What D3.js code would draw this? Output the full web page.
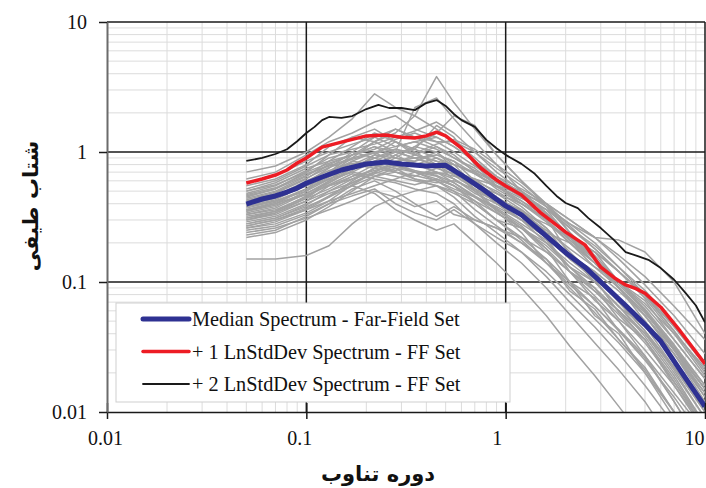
<!DOCTYPE html>
<html>
<head>
<meta charset="utf-8">
<script src="https://cdn.jsdelivr.net/npm/d3@7/dist/d3.min.js"></script>
<style>
  html, body { margin: 0; padding: 0; background: #fff; }
  svg { display: block; }
  .tick text { font-family: "Liberation Serif", "Times New Roman", serif; font-size: 20px; fill: #111; }
</style>
</head>
<body>
<svg id="chart" width="706" height="488"></svg>
<script>
// Periods (s) shared by every record spectrum
const periods = [0.05, 0.07, 0.1, 0.13, 0.17, 0.22, 0.28, 0.35, 0.45, 0.55, 0.7, 0.9, 1.2, 1.6, 2.1, 2.8, 3.7, 5, 7, 10];

// Individual record spectra (spectral acceleration, g)
const records = [
  [0.35,0.40,0.52,0.70,0.95,1.10,0.90,0.85,1.00,0.80,0.55,0.40,0.30,0.22,0.12,0.090,0.052,0.036,0.017,0.008],
  [0.28,0.31,0.38,0.45,0.60,0.75,0.95,0.80,0.70,0.62,0.50,0.42,0.36,0.24,0.20,0.13,0.10,0.060,0.030,0.013],
  [0.45,0.52,0.70,0.95,1.30,1.50,1.20,1.05,1.60,1.30,0.80,0.55,0.40,0.31,0.16,0.12,0.070,0.042,0.022,0.010],
  [0.15,0.15,0.16,0.19,0.28,0.38,0.45,0.50,0.55,0.48,0.40,0.30,0.26,0.20,0.14,0.10,0.065,0.040,0.020,0.009],
  [0.62,0.70,0.95,1.20,1.40,1.70,1.90,1.50,1.30,1.10,0.85,0.60,0.45,0.32,0.22,0.15,0.10,0.065,0.036,0.018],
  [0.30,0.33,0.42,0.55,0.62,0.70,0.65,0.60,0.55,0.45,0.32,0.24,0.17,0.11,0.070,0.045,0.028,0.016,0.008,0.0035],
  [0.40,0.45,0.55,0.65,0.80,0.75,0.90,1.10,1.40,1.90,1.60,0.95,0.60,0.38,0.24,0.16,0.10,0.060,0.030,0.014],
  [0.25,0.27,0.33,0.40,0.52,0.60,0.50,0.40,0.32,0.38,0.30,0.26,0.22,0.17,0.12,0.085,0.060,0.040,0.022,0.011],
  [0.50,0.58,0.75,0.85,0.95,1.20,1.40,1.90,3.80,2.40,1.50,0.95,0.60,0.40,0.24,0.15,0.090,0.050,0.025,0.011],
  [0.38,0.42,0.50,0.62,0.70,0.85,1.00,2.20,2.60,1.80,1.20,0.80,0.50,0.33,0.21,0.14,0.090,0.055,0.028,0.013],
  [0.33,0.36,0.45,0.60,0.85,1.00,0.80,0.70,0.65,0.55,0.40,0.30,0.21,0.14,0.090,0.058,0.036,0.021,0.010,0.0045],
  [0.42,0.48,0.62,0.80,0.75,0.90,1.05,0.95,0.85,0.80,0.70,0.58,0.45,0.36,0.22,0.17,0.10,0.072,0.036,0.018],
  [0.27,0.30,0.36,0.42,0.48,0.55,0.62,0.70,0.60,0.52,0.45,0.38,0.30,0.22,0.15,0.11,0.075,0.050,0.028,0.014],
  [0.55,0.62,0.80,1.10,1.30,1.20,1.00,0.90,0.95,0.85,0.60,0.45,0.35,0.24,0.16,0.10,0.065,0.038,0.019,0.008],
  [0.36,0.40,0.48,0.58,0.72,0.95,1.20,1.00,0.80,0.70,0.62,0.55,0.48,0.40,0.30,0.22,0.15,0.095,0.055,0.028],
  [0.31,0.35,0.46,0.56,0.68,0.62,0.58,0.52,0.48,0.40,0.28,0.20,0.14,0.090,0.056,0.034,0.021,0.012,0.0055,0.0025],
  [0.47,0.53,0.68,0.78,0.90,1.00,1.10,1.20,1.05,0.90,0.75,0.55,0.42,0.30,0.20,0.14,0.095,0.060,0.032,0.015],
  [0.22,0.24,0.30,0.38,0.50,0.65,0.75,0.62,0.55,0.50,0.42,0.34,0.26,0.19,0.13,0.090,0.060,0.036,0.018,0.008],
  [0.40,0.46,0.60,0.72,0.82,0.78,0.72,0.80,0.90,0.75,0.52,0.36,0.26,0.18,0.10,0.075,0.042,0.026,0.012,0.005],
  [0.34,0.38,0.50,0.68,0.90,1.20,1.50,1.30,1.10,0.90,0.72,0.60,0.50,0.38,0.28,0.20,0.13,0.080,0.042,0.020],
  [0.29,0.32,0.40,0.48,0.55,0.65,0.70,0.65,0.75,0.68,0.55,0.48,0.40,0.30,0.21,0.15,0.10,0.068,0.040,0.022],
  [0.44,0.50,0.65,0.85,1.10,1.40,1.20,0.95,0.85,0.72,0.50,0.35,0.24,0.14,0.10,0.055,0.040,0.020,0.009,0.004],
  [0.26,0.28,0.34,0.42,0.56,0.70,0.85,0.90,0.78,0.62,0.48,0.40,0.34,0.28,0.22,0.17,0.12,0.080,0.046,0.024],
  [0.52,0.60,0.78,0.95,1.05,1.15,1.30,1.45,1.70,1.40,1.00,0.70,0.50,0.34,0.22,0.14,0.090,0.055,0.028,0.012],
  [0.37,0.42,0.52,0.62,0.75,0.80,0.70,0.62,0.58,0.60,0.52,0.42,0.30,0.20,0.13,0.085,0.056,0.034,0.017,0.0075],
  [0.32,0.35,0.44,0.52,0.65,0.80,0.95,1.10,1.00,0.75,0.55,0.40,0.30,0.22,0.16,0.12,0.085,0.055,0.030,0.015],
  [0.48,0.55,0.72,0.90,1.00,0.90,0.80,0.70,0.62,0.55,0.42,0.30,0.22,0.15,0.10,0.065,0.042,0.025,0.013,0.006],
  [0.24,0.26,0.31,0.36,0.42,0.50,0.45,0.38,0.42,0.33,0.30,0.26,0.20,0.14,0.095,0.065,0.043,0.027,0.014,0.007],
  [0.41,0.46,0.58,0.75,1.00,1.30,1.10,1.20,1.30,1.10,0.85,0.65,0.52,0.40,0.30,0.22,0.16,0.11,0.065,0.036],
  [0.35,0.39,0.47,0.55,0.65,0.72,0.80,0.72,0.66,0.58,0.46,0.37,0.28,0.21,0.13,0.10,0.064,0.046,0.022,0.010],
  [0.58,0.66,0.85,1.00,1.15,1.30,1.50,1.30,1.20,1.20,1.00,0.75,0.55,0.38,0.26,0.18,0.12,0.078,0.042,0.021],
  [0.30,0.34,0.44,0.58,0.75,0.85,0.78,0.70,0.70,0.65,0.60,0.50,0.38,0.26,0.17,0.11,0.070,0.042,0.021,0.009],
  [0.39,0.44,0.55,0.66,0.80,0.95,0.90,0.82,0.70,0.58,0.45,0.34,0.26,0.17,0.12,0.072,0.050,0.027,0.012,0.005],
  [0.27,0.30,0.37,0.46,0.58,0.70,0.82,0.95,1.10,0.95,0.70,0.52,0.40,0.29,0.20,0.14,0.090,0.058,0.031,0.015],
  [0.46,0.52,0.66,0.80,0.95,1.10,1.00,0.90,0.80,0.66,0.52,0.42,0.34,0.25,0.18,0.13,0.090,0.058,0.032,0.016],
  [0.33,0.37,0.48,0.60,0.70,0.65,0.60,0.56,0.62,0.55,0.45,0.36,0.27,0.18,0.12,0.078,0.050,0.030,0.016,0.0075],
  [0.70,0.78,1.00,1.30,1.80,2.80,2.20,1.90,1.50,1.20,0.90,0.65,0.48,0.34,0.23,0.15,0.10,0.062,0.033,0.016],
  [0.43,0.49,0.63,0.76,0.88,0.98,1.05,0.98,1.15,1.25,1.05,0.80,0.58,0.40,0.27,0.18,0.12,0.075,0.040,0.019],
  [0.28,0.31,0.39,0.50,0.62,0.75,0.70,0.66,0.60,0.50,0.36,0.27,0.20,0.15,0.085,0.062,0.036,0.022,0.010,0.0045],
  [0.36,0.41,0.52,0.64,0.78,0.90,1.00,1.05,0.90,0.80,0.68,0.54,0.42,0.32,0.23,0.17,0.12,0.080,0.045,0.023],
  [0.23,0.25,0.32,0.40,0.46,0.52,0.40,0.34,0.30,0.36,0.28,0.22,0.17,0.12,0.080,0.052,0.034,0.020,0.010,0.0045],
  [0.50,0.56,0.70,0.82,0.95,1.05,1.25,1.40,1.20,1.00,0.78,0.62,0.48,0.36,0.26,0.19,0.13,0.086,0.048,0.024],
  [0.31,0.34,0.42,0.50,0.58,0.68,0.78,0.85,0.95,0.85,0.68,0.55,0.44,0.36,0.28,0.22,0.21,0.17,0.10,0.040],
  [0.38,0.43,0.56,0.70,0.85,0.80,0.75,0.70,0.68,0.70,0.62,0.48,0.36,0.26,0.15,0.105,0.058,0.036,0.016,0.007],
  [0.26,0.29,0.36,0.45,0.55,0.48,0.36,0.30,0.25,0.28,0.20,0.14,0.090,0.055,0.032,0.019,0.011,0.006,0.003,0.0012]
];

// Statistic spectra
const medianT = [0.05,0.06,0.07,0.08,0.09,0.1,0.12,0.15,0.2,0.25,0.3,0.4,0.5,0.6,0.75,1.0,1.2,1.5,2.0,2.5,3.0,4.0,5.0,6.0,7.5,10];
const medianSa = [0.398,0.435,0.459,0.492,0.528,0.575,0.642,0.727,0.809,0.838,0.809,0.78,0.79,0.665,0.53,0.385,0.328,0.245,0.168,0.13,0.10,0.066,0.047,0.035,0.021,0.011];

const plus1T = [0.05,0.06,0.07,0.08,0.09,0.1,0.12,0.15,0.2,0.25,0.3,0.35,0.4,0.45,0.5,0.6,0.75,0.9,1.0,1.2,1.5,2.0,2.5,3.0,3.5,4.0,4.5,5.0,6.0,7.5,10];
const plus1Sa = [0.577,0.62,0.665,0.727,0.823,0.90,1.09,1.19,1.33,1.35,1.30,1.28,1.33,1.42,1.33,1.07,0.753,0.609,0.548,0.467,0.34,0.242,0.193,0.13,0.108,0.095,0.089,0.082,0.064,0.042,0.0234];

const plus2T = [0.05,0.06,0.07,0.08,0.09,0.1,0.11,0.12,0.13,0.15,0.17,0.2,0.23,0.26,0.3,0.35,0.4,0.45,0.5,0.55,0.6,0.7,0.8,0.9,1.0,1.2,1.4,1.6,1.8,2.0,2.3,2.6,3.0,3.5,4.0,4.6,5.2,6.0,7.0,8.0,9.0,10];
const plus2Sa = [0.853,0.90,0.965,1.05,1.21,1.40,1.56,1.76,1.86,1.83,1.89,2.14,2.30,2.18,2.18,2.10,2.38,2.51,2.26,1.96,1.76,1.56,1.24,1.07,0.95,0.81,0.68,0.548,0.459,0.405,0.37,0.31,0.26,0.21,0.17,0.158,0.148,0.128,0.104,0.082,0.066,0.049];

// Axis ticks and labels
const decadeTicks = [0.01, 0.1, 1, 10];
const xTitle = "دوره تناوب";
const yTitle = "شتاب طیفی";
const legendItems = [
  { label: "Median Spectrum - Far-Field Set", color: "#2e3192", width: 5 },
  { label: "+ 1 LnStdDev Spectrum - FF Set", color: "#ed1c24", width: 3.5 },
  { label: "+ 2 LnStdDev Spectrum - FF Set", color: "#1a1a1a", width: 1.8 }
];

const svg = d3.select("#chart");
const plotL = 107, plotR = 705, plotT = 22, plotB = 412;

const x = d3.scaleLog().domain([0.01, 10]).range([plotL, plotR]);
const y = d3.scaleLog().domain([0.01, 10]).range([plotB, plotT]);

// Minor and major grid
const minor = [];
[0.01, 0.1, 1].forEach(d => { for (let k = 2; k <= 9; k++) minor.push(d * k); });

const grid = svg.append("g");
grid.selectAll(".vmin").data(minor).join("line")
  .attr("class", "vmin")
  .attr("x1", d => x(d)).attr("x2", d => x(d))
  .attr("y1", plotT).attr("y2", plotB)
  .attr("stroke", "#dcdcdc").attr("stroke-width", 1);
grid.selectAll(".hmin").data(minor).join("line")
  .attr("class", "hmin")
  .attr("x1", plotL).attr("x2", plotR)
  .attr("y1", d => y(d)).attr("y2", d => y(d))
  .attr("stroke", "#dcdcdc").attr("stroke-width", 1);
grid.selectAll(".vmaj").data([0.1, 1, 10]).join("line")
  .attr("class", "vmaj")
  .attr("x1", d => x(d)).attr("x2", d => x(d))
  .attr("y1", plotT).attr("y2", plotB)
  .attr("stroke", "#1a1a1a").attr("stroke-width", 1.5);
grid.selectAll(".hmaj").data([0.1, 1, 10]).join("line")
  .attr("class", "hmaj")
  .attr("x1", plotL).attr("x2", plotR)
  .attr("y1", d => y(d)).attr("y2", d => y(d))
  .attr("stroke", "#1a1a1a").attr("stroke-width", 1.5);

// Curves, clipped to the plotting area
svg.append("clipPath").attr("id", "plotClip")
  .append("rect").attr("x", plotL).attr("y", plotT)
  .attr("width", plotR - plotL).attr("height", plotB - plotT);

const line = d3.line().x(d => x(d[0])).y(d => y(d[1]));
const curves = svg.append("g").attr("clip-path", "url(#plotClip)");

curves.selectAll(".rec").data(records).join("path")
  .attr("class", "rec")
  .attr("d", r => line(r.map((v, i) => [periods[i], v])))
  .attr("fill", "none").attr("stroke", "#a2a2a2").attr("stroke-width", 1.5)
  .attr("stroke-linejoin", "round");

const stats = [
  { T: plus2T, Sa: plus2Sa, item: legendItems[2] },
  { T: plus1T, Sa: plus1Sa, item: legendItems[1] },
  { T: medianT, Sa: medianSa, item: legendItems[0] }
];
curves.selectAll(".stat").data(stats).join("path")
  .attr("class", "stat")
  .attr("d", s => line(s.T.map((t, i) => [t, s.Sa[i]])))
  .attr("fill", "none")
  .attr("stroke", s => s.item.color)
  .attr("stroke-width", s => s.item.width)
  .attr("stroke-linejoin", "round");

// Axes
const fmt = d => String(d);
const labelShift = [-2, -7, -9, -11];
const xAxis = svg.append("g").attr("transform", `translate(0,${plotB})`)
  .call(d3.axisBottom(x).tickValues(decadeTicks).tickFormat(fmt).tickSizeInner(7).tickSizeOuter(0));
xAxis.select(".domain").attr("stroke", "#1a1a1a").attr("stroke-width", 1.5);
xAxis.selectAll(".tick line").attr("y1", -9).attr("stroke", "#1a1a1a").attr("stroke-width", 1.5);
xAxis.selectAll(".tick text").attr("y", 33).attr("dy", 0).attr("dx", (d, i) => labelShift[i]);

const yAxis = svg.append("g").attr("transform", `translate(${plotL},0)`)
  .call(d3.axisLeft(y).tickValues(decadeTicks).tickFormat(fmt).tickSizeInner(8).tickSizeOuter(0).tickPadding(12));
yAxis.select(".domain").attr("stroke", "#6b6b6b").attr("stroke-width", 2);
yAxis.selectAll(".tick line").attr("stroke", "#1a1a1a").attr("stroke-width", 1.5);
yAxis.selectAll(".tick text").attr("dy", "0.34em");

// Axis titles
svg.append("text")
  .attr("x", 378).attr("y", 481)
  .attr("text-anchor", "middle")
  .attr("font-family", "DejaVu Sans, sans-serif").attr("font-weight", "bold")
  .attr("font-size", 21).attr("fill", "#111")
  .text(xTitle);
svg.append("text")
  .attr("transform", "translate(38,206) rotate(-90)")
  .attr("text-anchor", "middle")
  .attr("font-family", "DejaVu Sans, sans-serif").attr("font-weight", "bold")
  .attr("font-size", 21).attr("fill", "#111")
  .text(yTitle);

// Legend
const legend = svg.append("g");
legend.append("rect")
  .attr("x", 116).attr("y", 303).attr("width", 394).attr("height", 99)
  .attr("fill", "#fff").attr("stroke", "#cfcfcf").attr("stroke-width", 1);
const rows = legend.selectAll(".row").data(legendItems).join("g")
  .attr("class", "row")
  .attr("transform", (d, i) => `translate(0,${319 + i * 32.5})`);
rows.append("line")
  .attr("x1", 143).attr("x2", 189).attr("y1", 0).attr("y2", 0)
  .attr("stroke", d => d.color).attr("stroke-width", d => d.width)
  .attr("stroke-linecap", "round");
rows.append("text")
  .attr("x", 192).attr("y", 7)
  .attr("font-family", "Liberation Serif, serif").attr("font-size", 20.3).attr("fill", "#111")
  .text(d => d.label);
</script>
</body>
</html>
